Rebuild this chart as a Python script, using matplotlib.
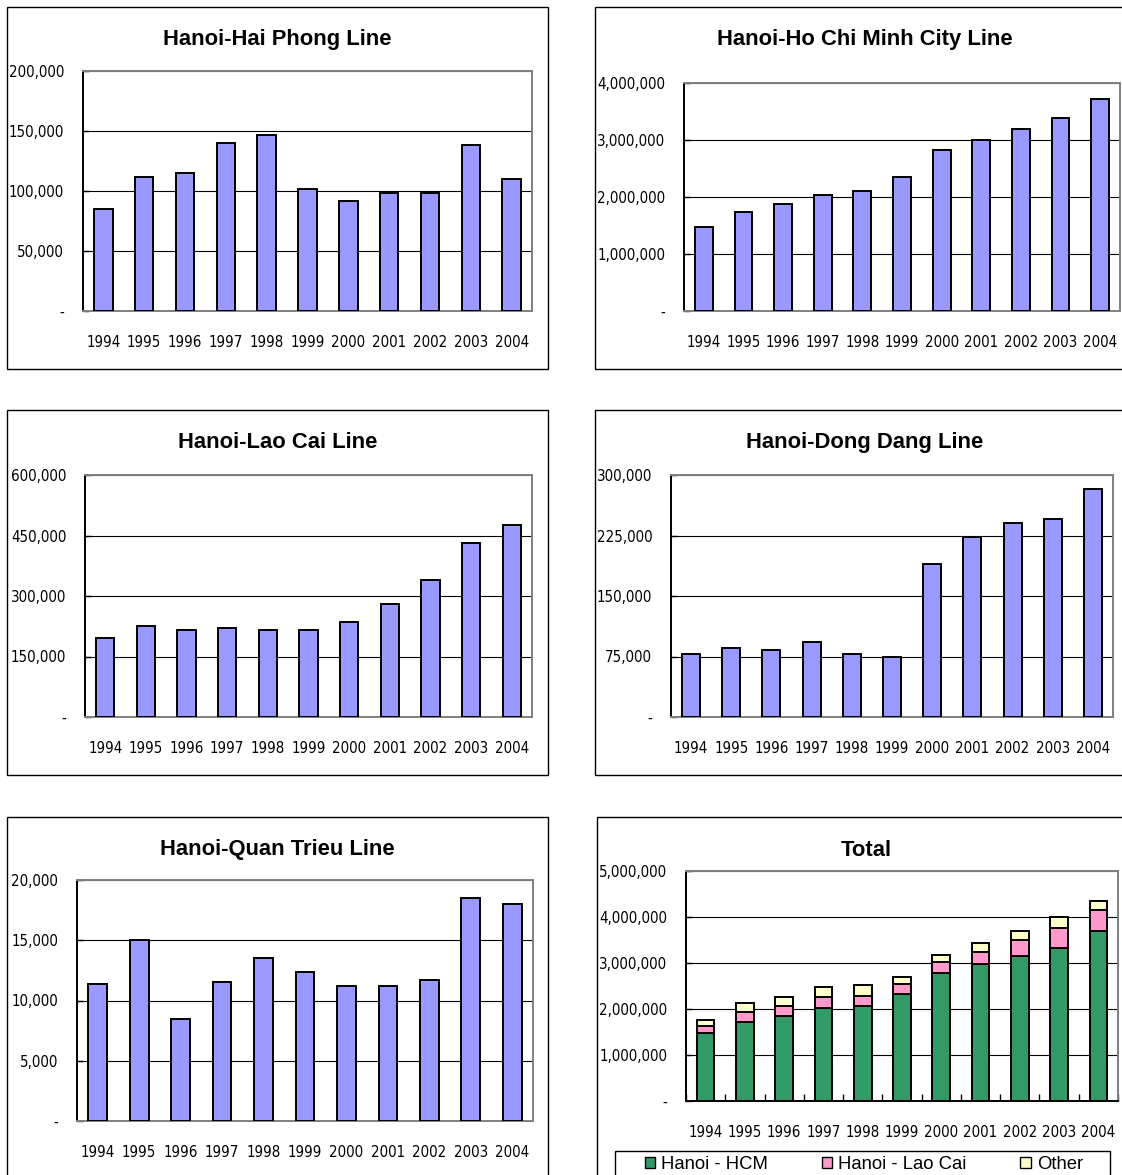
import matplotlib
matplotlib.use('Agg')
import matplotlib.pyplot as plt
from matplotlib import font_manager
from matplotlib.patches import Rectangle, Patch
from matplotlib.ticker import FixedLocator
import numpy as np

# Passenger volumes by railway line, 1994-2004
years = ['1994', '1995', '1996', '1997', '1998', '1999', '2000', '2001', '2002', '2003', '2004']
haiphong = [85000, 111700, 115300, 139700, 146700, 101400, 91700, 98300, 98300, 138300, 109700]
hcm = [1480000, 1740000, 1880000, 2040000, 2110000, 2350000, 2820000, 3000000, 3200000, 3380000, 3720000]
laocai = [195000, 225000, 214600, 219600, 215000, 215000, 234500, 280000, 340000, 431000, 475700]
dongdang = [77500, 85000, 82500, 92400, 77500, 75000, 189300, 223000, 240300, 245300, 282600]
quantrieu = [11360, 15000, 8500, 11530, 13500, 12330, 11170, 11170, 11670, 18500, 18000]

# stacked total
total_hcm = [1471000, 1725000, 1855000, 2022000, 2072000, 2333000, 2775000, 2986000, 3159000, 3333000, 3688000]
total_laocai = [152000, 210000, 217000, 232000, 218000, 210000, 239000, 246000, 348000, 428000, 464000]
total_other = [145000, 188000, 189000, 224000, 224000, 145000, 153000, 196000, 181000, 232000, 189000]
legend_labels = ['Hanoi - HCM', 'Hanoi - Lao Cai', 'Other']

W, H = 1122, 1175
fig = plt.figure(figsize=(W / 100, H / 100), dpi=100)

names = {f.name for f in font_manager.fontManager.ttflist}
sans = 'Liberation Sans' if 'Liberation Sans' in names else 'DejaVu Sans'

# look for a narrow face for the axis labels, fall back to the regular one
narrow_file = None
for f in font_manager.fontManager.ttflist:
    fn = f.fname.lower()
    if ('narrow' in fn or 'condensed' in fn) and 'bold' not in fn and 'italic' not in fn \
            and 'oblique' not in fn and ('liberation' in fn or 'dejavusans' in fn):
        if narrow_file is None or 'liberation' in fn:
            narrow_file = f.fname
if narrow_file:
    tick_font = font_manager.FontProperties(fname=narrow_file, size=10.8)
else:
    tick_font = font_manager.FontProperties(family=sans, size=10.3)

BAR = '#9999FF'
GREY = '#808080'


def frame(l, t, r, b):
    fig.patches.append(Rectangle((l / W, 1 - b / H), (r - l) / W, (b - t) / H,
                                 transform=fig.transFigure, fill=False,
                                 ec='black', lw=1.0))


def make_axes(l, t, r, b):
    return fig.add_axes([l / W, 1 - b / H, (r - l) / W, (b - t) / H])


def title(cx, baseline, text):
    fig.text(cx / W, 1 - baseline / H, text, ha='center', va='baseline',
             fontsize=15.8, fontweight='bold', family=sans)


def fmt(v):
    return '-' if v == 0 else f'{int(round(v)):,}'


def style(ax, top, step, total=False):
    x = np.arange(len(years))
    ax.set_xlim(-0.5, len(years) - 0.5)
    ax.set_ylim(0, top)
    yt = np.arange(0, top + step / 2, step)
    ax.set_yticks(yt)
    ax.set_yticklabels([fmt(v) for v in yt], fontproperties=tick_font)
    ax.set_xticks(x)
    ax.set_xticklabels(years, fontproperties=tick_font)
    ax.grid(axis='y', color='black', lw=0.8)
    ax.set_axisbelow(True)
    for s in ['top', 'right']:
        ax.spines[s].set_color(GREY)
        ax.spines[s].set_linewidth(1.4)
    ax.spines['left'].set_color('black')
    ax.spines['left'].set_linewidth(1.4)
    ax.spines['bottom'].set_color('black' if total else GREY)
    ax.spines['bottom'].set_linewidth(1.4)
    ax.tick_params(axis='y', direction='in', length=4, width=1, pad=13.5)
    ax.tick_params(axis='x', which='major', length=0, pad=17)
    if total:
        ax.xaxis.set_minor_locator(FixedLocator(np.arange(-0.5, len(years), 1.0)))
        ax.tick_params(axis='x', which='minor', direction='in', length=5,
                       width=1, color='black')
    return x


def single(box, plot, head, values, top, step):
    frame(*box)
    title((box[0] + box[2]) / 2, box[1] + 38, head)
    ax = make_axes(*plot)
    x = style(ax, top, step)
    ax.bar(x, values, width=0.45, color=BAR, edgecolor='black', lw=1.4, zorder=3)
    return ax


single((7, 7, 548, 369), (83, 71, 532, 311), 'Hanoi-Hai Phong Line', haiphong, 200000, 50000)
single((595, 7, 1134, 369), (684, 83, 1120, 311), 'Hanoi-Ho Chi Minh City Line', hcm, 4000000, 1000000)
single((7, 410, 548, 775), (85, 475, 532, 717), 'Hanoi-Lao Cai Line', laocai, 600000, 150000)
single((595, 410, 1134, 775), (671, 475, 1113, 717), 'Hanoi-Dong Dang Line', dongdang, 300000, 75000)
single((7, 817, 548, 1185), (77, 880, 533, 1121), 'Hanoi-Quan Trieu Line', quantrieu, 20000, 5000)

# Total panel with stacked bars and legend
frame(597, 817, 1135, 1185)
title(866, 856, 'Total')
ax = make_axes(686, 871, 1118, 1101)
x = style(ax, 5000000, 1000000, total=True)
colors = ['#339966', '#FF99CC', '#FFFFCC']
bottom = np.zeros(len(years))
for vals, c in zip([total_hcm, total_laocai, total_other], colors):
    ax.bar(x, vals, bottom=bottom, width=0.45, color=c, edgecolor='black', lw=1.4, zorder=3)
    bottom += np.array(vals)

frame(615, 1151, 1110, 1190)
handles = [Patch(fc=c, ec='black', lw=1.0, label=l) for c, l in zip(colors, legend_labels)]
leg = ax.legend(handles=handles, loc='upper center',
                bbox_to_anchor=(864 / W, 1 - 1152 / H),
                bbox_transform=fig.transFigure, ncol=3, frameon=False,
                handlelength=0.55, handleheight=0.55, handletextpad=0.35,
                columnspacing=2.9, borderaxespad=0, borderpad=0.2,
                prop={'family': sans, 'size': 13.3})

fig.savefig('out.png', dpi=100)
